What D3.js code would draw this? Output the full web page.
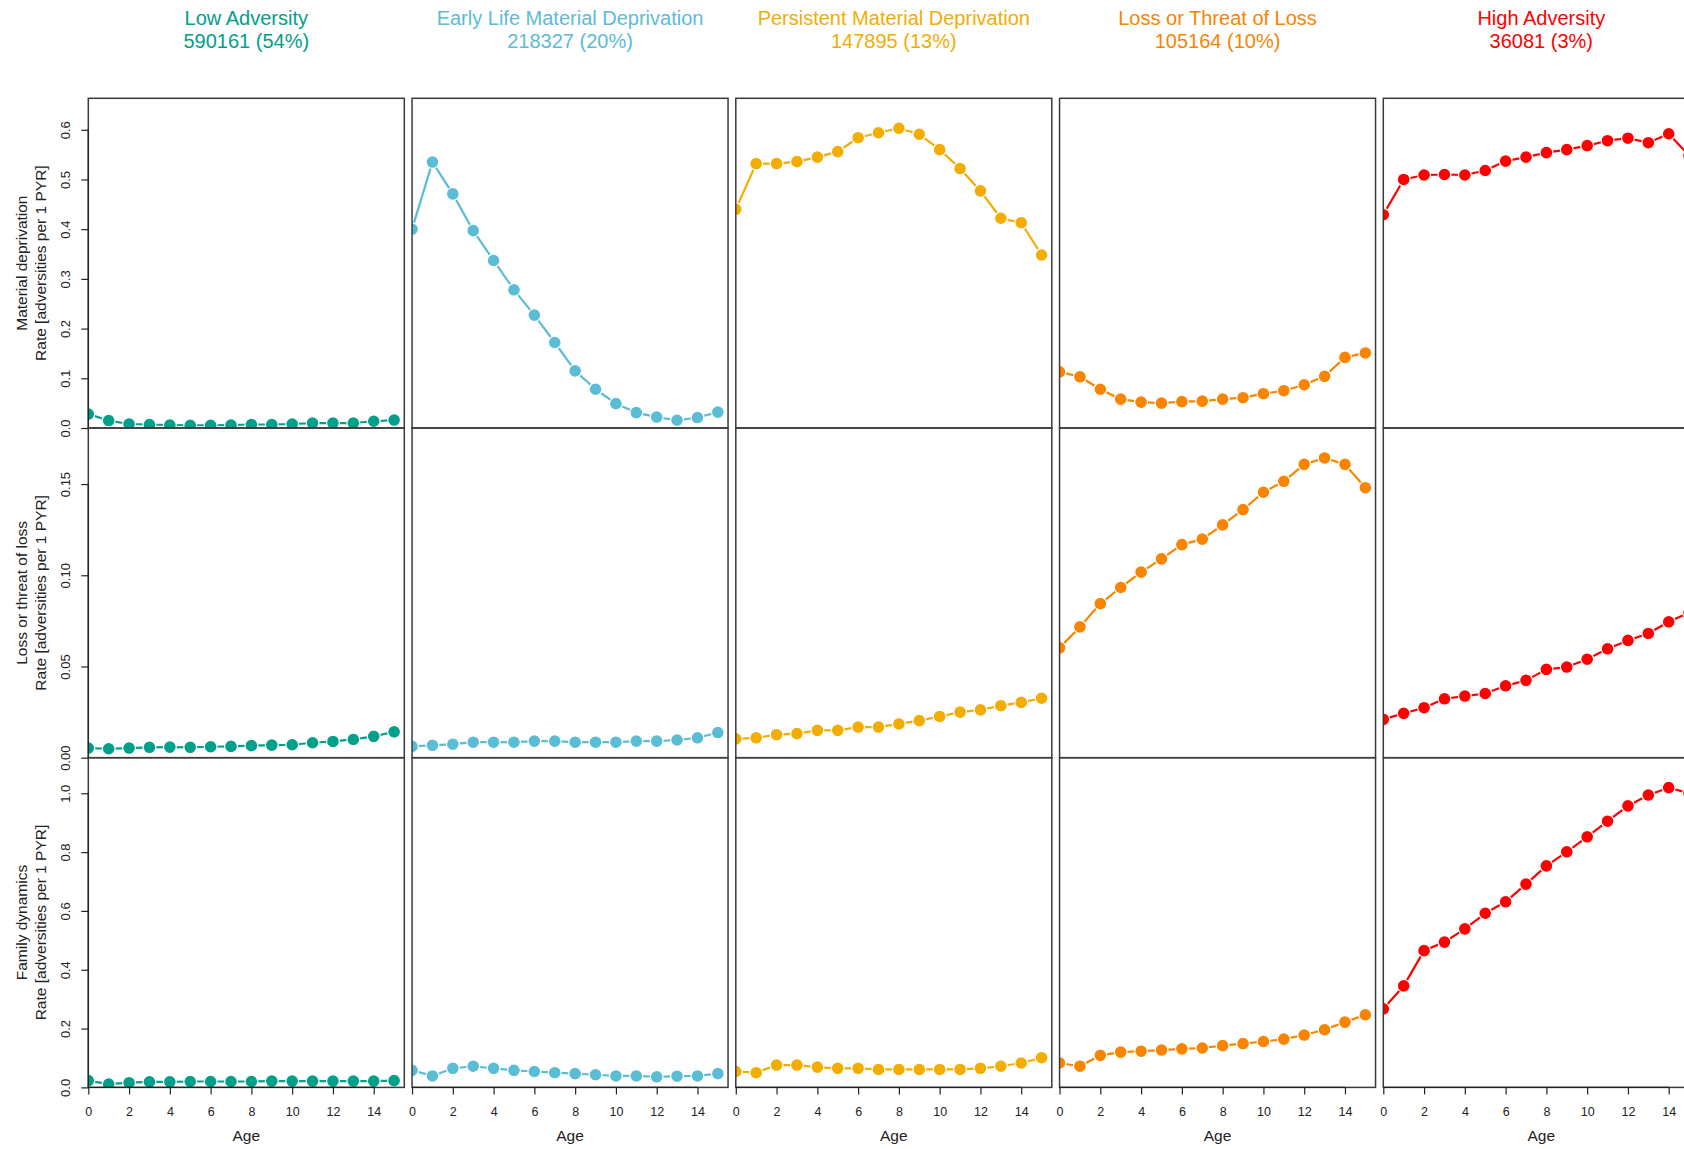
<!DOCTYPE html>
<html>
<head>
<meta charset="utf-8">
<script src="https://cdnjs.cloudflare.com/ajax/libs/d3/7.8.5/d3.min.js"></script>
<style>
  html, body { margin: 0; padding: 0; background: #fff; }
  svg { display: block; font-family: "Liberation Sans", Arial, sans-serif; }
</style>
</head>
<body>
<svg id="chart" width="1684" height="1149"></svg>
<script>
// ---------- data ----------
const ages = [0, 1, 2, 3, 4, 5, 6, 7, 8, 9, 10, 11, 12, 13, 14, 15];
const xTicks = [0, 2, 4, 6, 8, 10, 12, 14];

const groups = ["Low Adversity", "Early Life Material Deprivation", "Persistent Material Deprivation", "Loss or Threat of Loss", "High Adversity"];
const groupCounts = ["590161 (54%)", "218327 (20%)", "147895 (13%)", "105164 (10%)", "36081 (3%)"];
const groupColors = ["#00A08A", "#5BBCD6", "#F2AD00", "#F98400", "#FF0000"];

const domains = ["Material deprivation", "Loss or threat of loss", "Family dynamics"];
const yTicksMaterial = [0, 0.1, 0.2, 0.3, 0.4, 0.5, 0.6];
const yTicksLoss = [0, 0.05, 0.10, 0.15];
const yTicksFamily = [0, 0.2, 0.4, 0.6, 0.8, 1.0];
const yTickFormats = [".1f", ".2f", ".1f"];

// Material deprivation
const mdLow     = [0.028, 0.015, 0.008, 0.007, 0.006, 0.0055, 0.0055, 0.006, 0.007, 0.007, 0.008, 0.010, 0.010, 0.010, 0.0136, 0.016];
const mdEarly   = [0.400, 0.535, 0.471, 0.397, 0.337, 0.278, 0.227, 0.172, 0.115, 0.078, 0.049, 0.031, 0.022, 0.0156, 0.021, 0.032];
const mdPersist = [0.440, 0.532, 0.532, 0.536, 0.545, 0.556, 0.584, 0.594, 0.603, 0.591, 0.560, 0.522, 0.477, 0.422, 0.413, 0.348];
const mdLoss    = [0.113, 0.103, 0.078, 0.058, 0.052, 0.050, 0.053, 0.054, 0.058, 0.061, 0.069, 0.075, 0.087, 0.104, 0.142, 0.151];
const mdHigh    = [0.429, 0.500, 0.509, 0.510, 0.509, 0.518, 0.537, 0.545, 0.554, 0.560, 0.568, 0.578, 0.583, 0.574, 0.592, 0.548];

// Loss or threat of loss
const ltLow     = [0.0053, 0.0049, 0.0053, 0.0057, 0.0058, 0.0057, 0.0060, 0.0062, 0.0066, 0.0069, 0.0071, 0.0082, 0.0089, 0.0100, 0.0117, 0.0142];
const ltEarly   = [0.0062, 0.0068, 0.0074, 0.0085, 0.0085, 0.0085, 0.0091, 0.0091, 0.0085, 0.0085, 0.0085, 0.0091, 0.0091, 0.0097, 0.0109, 0.0138];
const ltPersist = [0.0103, 0.0109, 0.0126, 0.0132, 0.0150, 0.0150, 0.0168, 0.0168, 0.0185, 0.0203, 0.0226, 0.0250, 0.0262, 0.0285, 0.0303, 0.0326];
const ltLoss    = [0.0602, 0.0717, 0.0845, 0.0933, 0.1017, 0.1090, 0.1168, 0.1198, 0.1276, 0.1360, 0.1455, 0.1515, 0.1608, 0.1643, 0.1608, 0.1480];
const ltHigh    = [0.0210, 0.0243, 0.0274, 0.0323, 0.0338, 0.0352, 0.0394, 0.0424, 0.0484, 0.0497, 0.0540, 0.0597, 0.0643, 0.0681, 0.0745, 0.0795];

// Family dynamics
const fdLow     = [0.023, 0.011, 0.016, 0.019, 0.019, 0.020, 0.020, 0.020, 0.020, 0.0215, 0.0215, 0.0215, 0.0215, 0.0215, 0.0215, 0.023];
const fdEarly   = [0.058, 0.039, 0.065, 0.072, 0.065, 0.058, 0.054, 0.050, 0.047, 0.043, 0.039, 0.039, 0.036, 0.038, 0.039, 0.047];
const fdPersist = [0.054, 0.050, 0.076, 0.076, 0.069, 0.065, 0.065, 0.061, 0.061, 0.061, 0.061, 0.061, 0.065, 0.072, 0.083, 0.101];
const fdLoss    = [0.083, 0.072, 0.109, 0.120, 0.123, 0.127, 0.131, 0.134, 0.142, 0.149, 0.156, 0.164, 0.178, 0.196, 0.222, 0.247];
const fdHigh    = [0.267, 0.345, 0.465, 0.494, 0.539, 0.592, 0.631, 0.691, 0.753, 0.801, 0.852, 0.905, 0.957, 0.994, 1.019, 1.000];

// table built from the arrays: rows = domains, columns = groups
const table = [
  [mdLow, mdEarly, mdPersist, mdLoss, mdHigh],
  [ltLow, ltEarly, ltPersist, ltLoss, ltHigh],
  [fdLow, fdEarly, fdPersist, fdLoss, fdHigh]
];
const rowTicks = [yTicksMaterial, yTicksLoss, yTicksFamily];

// ---------- layout ----------
const svg = d3.select("#chart");
const panelW = 316;
const colStep = 323.75;
const firstLeft = 88.3;
const firstTop = 98.3;
const rowH = 329.7;
const axisColor = "#222";
const borderColor = "#3a3a3a";

const x0 = d3.scaleLinear().domain([0, 15.5]).range([0, panelW]);

table.forEach((rowSeries, r) => {
  const top = firstTop + r * rowH;
  const yMax = d3.max(rowSeries.flat()) * 1.1;
  const y = d3.scaleLinear().domain([0, yMax]).range([rowH, 0]);

  rowSeries.forEach((vals, c) => {
    const left = firstLeft + c * colStep;
    const g = svg.append("g").attr("transform", `translate(${left},${top})`);
    const clipId = `clip-${r}-${c}`;
    g.append("clipPath").attr("id", clipId)
      .append("rect").attr("x", 0).attr("y", 0).attr("width", panelW).attr("height", rowH);

    const data = ages.map((a, i) => ({ a, v: vals[i] }));
    const plot = g.append("g").attr("clip-path", `url(#${clipId})`);
    const line = d3.line().x(d => x0(d.a)).y(d => y(d.v));
    plot.append("path").datum(data)
      .attr("d", line)
      .attr("fill", "none")
      .attr("stroke", groupColors[c])
      .attr("stroke-width", 2.2)
      .attr("stroke-linejoin", "round");
    plot.selectAll("circle").data(data).enter().append("circle")
      .attr("cx", d => x0(d.a))
      .attr("cy", d => y(d.v))
      .attr("r", 6.4)
      .attr("fill", groupColors[c])
      .attr("stroke", "#fff")
      .attr("stroke-width", 1.2);

    g.append("rect")
      .attr("x", 0).attr("y", 0).attr("width", panelW).attr("height", rowH)
      .attr("fill", "none").attr("stroke", borderColor).attr("stroke-width", 1.5);

    // y axis on first column
    if (c === 0) {
      const ax = g.append("g").call(
        d3.axisLeft(y).tickValues(rowTicks[r]).tickSize(7).tickSizeOuter(0)
          .tickFormat(d3.format(yTickFormats[r]))
      );
      ax.select(".domain").attr("stroke", axisColor).attr("stroke-width", 1.2)
        .attr("d", `M0,${y(rowTicks[r][0])}V${y(rowTicks[r][rowTicks[r].length - 1])}`);
      ax.selectAll(".tick line").attr("stroke", axisColor).attr("stroke-width", 1.2);
      ax.selectAll(".tick text")
        .attr("x", null).attr("dy", null)
        .attr("transform", "translate(-23,0) rotate(-90)")
        .attr("text-anchor", "middle")
        .attr("dominant-baseline", "central")
        .attr("fill", axisColor)
        .style("font-size", "13px")
        .style("font-family", "'Liberation Sans', Arial, sans-serif");

      const ty = rowH / 2;
      g.append("text")
        .attr("transform", `translate(${21.7 - left},${ty}) rotate(-90)`)
        .attr("text-anchor", "middle").attr("dominant-baseline", "central")
        .attr("fill", axisColor).style("font-size", "15.5px")
        .text(domains[r]);
      g.append("text")
        .attr("transform", `translate(${40.7 - left},${ty}) rotate(-90)`)
        .attr("text-anchor", "middle").attr("dominant-baseline", "central")
        .attr("fill", axisColor).style("font-size", "15.5px")
        .text("Rate [adversities per 1 PYR]");
    }

    // x axis on bottom row
    if (r === table.length - 1) {
      const ax = g.append("g").attr("transform", `translate(0,${rowH})`).call(
        d3.axisBottom(x0).tickValues(xTicks).tickSize(7).tickSizeOuter(0).tickFormat(d3.format("d"))
      );
      ax.select(".domain").attr("stroke", axisColor).attr("stroke-width", 1.2)
        .attr("d", `M${x0(xTicks[0])},0H${x0(xTicks[xTicks.length - 1])}`);
      ax.selectAll(".tick line").attr("stroke", axisColor).attr("stroke-width", 1.2);
      ax.selectAll(".tick text")
        .attr("y", 24.5).attr("dy", "0.35em")
        .attr("fill", axisColor)
        .style("font-size", "12.5px")
        .style("font-family", "'Liberation Sans', Arial, sans-serif");
      g.append("text")
        .attr("x", panelW / 2).attr("y", rowH + 48.5).attr("dy", "0.35em")
        .attr("text-anchor", "middle").attr("fill", axisColor)
        .style("font-size", "15.5px")
        .text("Age");
    }

    // column titles on top row
    if (r === 0) {
      g.append("text")
        .attr("x", panelW / 2).attr("y", 18.3 - top).attr("dy", "0.35em")
        .attr("text-anchor", "middle").attr("fill", groupColors[c])
        .style("font-size", "20px")
        .text(groups[c]);
      g.append("text")
        .attr("x", panelW / 2).attr("y", 40.8 - top).attr("dy", "0.35em")
        .attr("text-anchor", "middle").attr("fill", groupColors[c])
        .style("font-size", "20px")
        .text(groupCounts[c]);
    }
  });
});
</script>
</body>
</html>
